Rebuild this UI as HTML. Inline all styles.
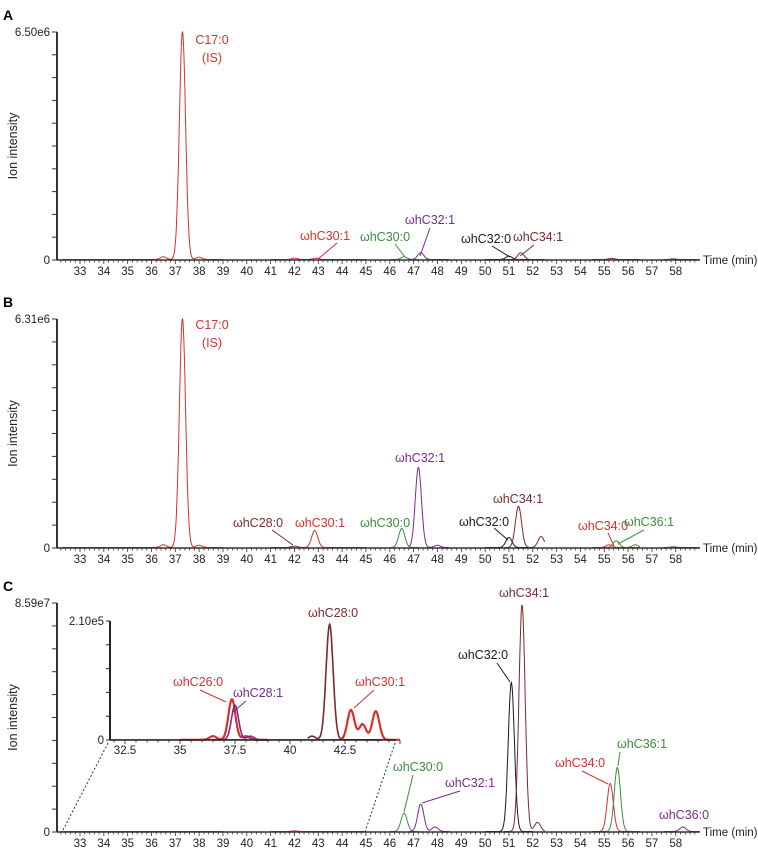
<!DOCTYPE html>
<html><head><meta charset="utf-8"><style>
html,body{margin:0;padding:0;background:#fff}
svg{display:block;font-family:"Liberation Sans",sans-serif}
</style></head><body>
<svg id="fig" width="758" height="848" viewBox="0 0 758 848" xmlns="http://www.w3.org/2000/svg"></svg>
<script>
// ---- data: peak retention times (min) and relative heights ----
const xTicks = [33,34,35,36,37,38,39,40,41,42,43,44,45,46,47,48,49,50,51,52,53,54,55,56,57,58];
const insetTicks = [32.5,35,37.5,40,42.5];
const yMaxLabels = ["6.50e6","6.31e6","8.59e7"];
const insetMaxLabel = "2.10e5";

// Panel A
const aRedT = [36.5, 37.3, 38.0, 42.0, 42.9];
const aRedH = [0.012, 1.0, 0.01, 0.006, 0.006];
const aGreenT = [46.6]; const aGreenH = [0.012];
const aPurpleT = [47.3, 57.9]; const aPurpleH = [0.03, 0.003];
const aBlackT = [51.0]; const aBlackH = [0.015];
const aBrownT = [51.5, 55.3]; const aBrownH = [0.03, 0.005];
// Panel B
const bRedT = [36.5, 37.3, 38.0, 42.85, 55.2]; const bRedH = [0.012, 1.0, 0.01, 0.074, 0.012];
const bGreenT = [46.5, 55.5, 56.3]; const bGreenH = [0.083, 0.03, 0.012];
const bPurpleT = [47.2, 48.0, 57.9]; const bPurpleH = [0.35, 0.01, 0.003];
const bBlackT = [51.0]; const bBlackH = [0.044];
const bBrownT = [42.0, 51.4, 52.35]; const bBrownH = [0.006, 0.18, 0.048];
// Panel C
const cRedT = [42.0, 55.25]; const cRedH = [0.003, 0.21];
const cGreenT = [46.6, 55.55]; const cGreenH = [0.08, 0.28];
const cPurpleT = [47.3, 47.9, 58.3]; const cPurpleH = [0.12, 0.02, 0.02];
const cBlackT = [51.1]; const cBlackH = [0.65];
const cBrownT = [51.55, 52.2]; const cBrownH = [0.99, 0.04];
// Inset (C)
const iRedT = [36.5, 37.36, 38.0, 42.77, 43.3, 43.9]; const iRedH = [0.03, 0.34, 0.03, 0.25, 0.13, 0.24];
const iPurpleT = [37.5, 38.2]; const iPurpleH = [0.29, 0.03];
const iBrownT = [41.0, 41.8]; const iBrownH = [0.03, 0.97];
const iGreenT = []; const iGreenH = [];

const COL = {red:"#d8312c", green:"#3c8d3c", purple:"#7a2b8f", black:"#1a1a1a", brown:"#7a2a2e"};
const svg = document.getElementById('fig');
const NS = "http://www.w3.org/2000/svg";
function mk(tag, attrs, parent){ const e=document.createElementNS(NS,tag); for(const k in attrs) e.setAttribute(k,attrs[k]); (parent||svg).appendChild(e); return e; }

function curve(times, heights, sigma, t0, t1, xf, yf){
  let d=""; for(let t=t0;t<=t1+1e-9;t+=0.02){ let v=0.002; for(let i=0;i<times.length;i++){ const z=(t-times[i])/sigma; v+=heights[i]*Math.exp(-0.5*z*z);} d+=(d?"L":"M")+xf(t).toFixed(1)+","+yf(v).toFixed(1);} return d;
}

function panel(id, y0, yTop, maxLabel, series){
  const g = mk('g',{});
  
  
  const xf = t => 80 + (t-33)*23.83;
  const yf = v => y0 - v*(y0-yTop);
  series.forEach(s=>{
    const p = mk('path',{d:curve(s.t,s.h,s.sig||0.13,s.r[0],s.r[1],xf,yf),fill:'none',stroke:COL[s.c],'stroke-width':1},g);
    
    
  });
  const ya = mk('line',{x1:57,y1:yTop,x2:57,y2:y0,stroke:'#333','stroke-width':2},g);
   
  for(let i=0;i<=10;i++){ const yy=y0-i*(y0-yTop)/10; mk('line',{x1:52,y1:yy,x2:57,y2:yy,stroke:'#333','stroke-width':1},g); }
  const t0 = mk('text',{x:50,y:y0+4,'text-anchor':'end','font-size':11.5,fill:'#222'},g); t0.textContent='0';
   
  const tm = mk('text',{x:50,y:yTop+4,'text-anchor':'end','font-size':11.5,fill:'#222'},g); tm.textContent=maxLabel;
   
  const xa = mk('line',{x1:57,y1:y0,x2:700,y2:y0,stroke:'#333','stroke-width':1.5},g);
   
  for(let t=32.2;t<=59;t+=0.2){ const tt=Math.round(t*10)/10; const maj=Math.abs(tt-Math.round(tt))<0.01; mk('line',{x1:xf(tt),y1:y0,x2:xf(tt),y2:y0+(maj?4:2.5),stroke:'#333','stroke-width':0.8},g); }
  xTicks.forEach(v=>{ const tx=mk('text',{x:xf(v),y:y0+15,'text-anchor':'middle','font-size':11.5,fill:'#222'},g); tx.textContent=v;
      });
  const tl = mk('text',{x:703,y:y0+4,'font-size':11.5,fill:'#222'},g); tl.textContent='Time (min)';
   
  const yl = mk('text',{x:0,y:0,'font-size':12.5,fill:'#222','text-anchor':'middle',transform:`translate(17,${(y0+yTop)/2}) rotate(-90)`},g); yl.textContent='Ion intensity';
   
  const pl = mk('text',{x:3,y:yTop-12,'font-size':14,'font-weight':'bold',fill:'#000'},g); pl.textContent=id;
   
}

panel('A',260,32,yMaxLabels[0],[
  {c:'green',t:[],h:[],r:[32.2,35]},
  {c:'red',t:aRedT,h:aRedH,r:[35,39]},
  {c:'red',t:aRedT,h:aRedH,r:[41,45]},
  {c:'green',t:aGreenT,h:aGreenH,r:[46,47.2]},
  {c:'purple',t:aPurpleT,h:aPurpleH,r:[46.8,48.5]},
  {c:'black',t:aBlackT,h:aBlackH,r:[50,51.8]},
  {c:'brown',t:aBrownT,h:aBrownH,r:[50.8,52.5]},
  {c:'brown',t:aBrownT,h:aBrownH,r:[54.5,56.5]},
  {c:'purple',t:aPurpleT,h:aPurpleH,r:[57.5,59]}
]);
panel('B',548,319,yMaxLabels[1],[
  {c:'green',t:[],h:[],r:[32.2,35]},
  {c:'red',t:bRedT,h:bRedH,r:[35,39]},
  {c:'brown',t:bBrownT,h:bBrownH,r:[41,42.5]},
  {c:'red',t:bRedT,h:bRedH,r:[42.3,45]},
  {c:'green',t:bGreenT,h:bGreenH,r:[46,47.2]},
  {c:'purple',t:bPurpleT,h:bPurpleH,r:[46.8,48.5]},
  {c:'black',t:bBlackT,h:bBlackH,r:[50,51.9]},
  {c:'brown',t:bBrownT,h:bBrownH,r:[50.8,52.5]},
  {c:'red',t:bRedT,h:bRedH,r:[54.5,56.5]},
  {c:'green',t:bGreenT,h:bGreenH,r:[54.8,56.5]},
  {c:'purple',t:bPurpleT,h:bPurpleH,r:[57.5,59]}
]);
panel('C',832,603,yMaxLabels[2],[
  {c:'green',t:[],h:[],r:[32.2,35]},
  {c:'red',t:cRedT,h:cRedH,r:[35,39]},
  {c:'red',t:cRedT,h:cRedH,r:[41,45]},
  {c:'green',t:cGreenT,h:cGreenH,r:[46,47.2]},
  {c:'purple',t:cPurpleT,h:cPurpleH,r:[46.8,48.5]},
  {c:'black',t:cBlackT,h:cBlackH,r:[50,52]},
  {c:'brown',t:cBrownT,h:cBrownH,r:[50.8,52.5]},
  {c:'red',t:cRedT,h:cRedH,r:[54.5,56.3]},
  {c:'green',t:cGreenT,h:cGreenH,r:[54.8,56.5]},
  {c:'purple',t:cPurpleT,h:cPurpleH,r:[57.5,59]}
]);

// Inset
(function(){
  const g = mk('g',{});
   
  const y0=740, yTop=621;
  const xf = t => 125 + (t-32.5)*22;
  const yf = v => y0 - v*(y0-yTop);
  mk('rect',{x:111,y:yTop-2,width:285,height:y0-yTop+2,fill:'#fff'},g);
  const ser = [
    {c:'green',t:iGreenT,h:iGreenH,r:[31.8,35],w:1},
    {c:'black',t:[],h:[],r:[35,44],w:1},
    {c:'red',t:iRedT,h:iRedH,r:[35,39],w:2.2},
    {c:'purple',t:iPurpleT,h:iPurpleH,r:[36.5,39],w:1.6},
    {c:'brown',t:iBrownT,h:iBrownH,r:[40.8,44.2],w:1.6},
    {c:'red',t:iRedT,h:iRedH,r:[42.3,45],w:2.2}
  ];
  ser.forEach(s=>{ const p=mk('path',{d:curve(s.t,s.h,0.16,s.r[0],s.r[1],xf,yf),fill:'none',stroke:COL[s.c],'stroke-width':s.w},g);
      });
  mk('line',{x1:110,y1:yTop,x2:110,y2:y0,stroke:'#222','stroke-width':2},g);
  for(let i=0;i<=5;i++){ const yy=y0-i*(y0-yTop)/5; mk('line',{x1:106,y1:yy,x2:110,y2:yy,stroke:'#222','stroke-width':1},g); }
  mk('line',{x1:110,y1:y0,x2:396,y2:y0,stroke:'#222','stroke-width':1.5},g);
  for(let t=32;t<=45;t+=0.5){ mk('line',{x1:xf(t),y1:y0,x2:xf(t),y2:y0+(Math.abs(t%2.5)<0.01?4:2.5),stroke:'#222','stroke-width':0.8},g); }
  insetTicks.forEach(v=>{ const tx=mk('text',{x:xf(v),y:y0+14,'text-anchor':'middle','font-size':11.5,fill:'#222'},g); tx.textContent=v;
      });
  const z=mk('text',{x:104,y:y0+4,'text-anchor':'end','font-size':11.5,fill:'#222'},g); z.textContent='0';
  const m=mk('text',{x:104,y:yTop+4,'text-anchor':'end','font-size':11.5,fill:'#222'},g); m.textContent=insetMaxLabel;
   
  mk('line',{x1:108,y1:743,x2:62,y2:832,stroke:'#333','stroke-width':1,'stroke-dasharray':'2,2'},g);
  mk('line',{x1:395,y1:743,x2:365,y2:832,stroke:'#333','stroke-width':1,'stroke-dasharray':'2,2'},g);
})();

// annotations: [text, x, y, color, lineX1, lineY1, lineX2, lineY2]
const ann = [
  ["C17:0",212,44,'red'],["(IS)",212,62,'red'],
  ["ωhC30:1",325,240,'red',337,243,318,259],
  ["ωhC30:0",385,241,'green',395,244,405,257],
  ["ωhC32:1",430,224,'purple',430,228,420,256],
  ["ωhC32:0",486,243,'black',492,246,510,257],
  ["ωhC34:1",538,241,'brown',534,245,520,256],
  ["C17:0",212,329,'red'],["(IS)",212,347,'red'],
  ["ωhC28:0",258,527,'brown',272,530,293,545],
  ["ωhC30:1",320,527,'red'],
  ["ωhC30:0",385,527,'green'],
  ["ωhC32:1",420,462,'purple'],
  ["ωhC32:0",484,526,'black',494,528,508,540],
  ["ωhC34:1",518,503,'brown'],
  ["ωhC34:0",603,530,'red',608,533,614,546],
  ["ωhC36:1",649,526,'green',644,530,618,544],
  ["ωhC28:0",333,617,'brown'],
  ["ωhC26:0",198,686,'red',200,690,226,702],
  ["ωhC28:1",258,697,'purple',246,701,233,712],
  ["ωhC30:1",380,686,'red',374,690,354,708],
  ["ωhC32:0",483,659,'black',497,663,510,682],
  ["ωhC34:1",524,597,'brown'],
  ["ωhC30:0",418,771,'green',413,775,404,812],
  ["ωhC32:1",470,787,'purple',460,791,422,803],
  ["ωhC34:0",580,767,'red',582,771,608,784],
  ["ωhC36:1",642,748,'green',620,752,618,766],
  ["ωhC36:0",684,819,'purple']
];
ann.forEach(a=>{
  const t=mk('text',{x:a[1],y:a[2],'text-anchor':'middle','font-size':12.5,fill:COL[a[3]]}); t.textContent=a[0];
   
  if(a.length>4){ const l=mk('line',{x1:a[4],y1:a[5],x2:a[6],y2:a[7],stroke:COL[a[3]],'stroke-width':1});
      }
});
</script>
</body></html>
